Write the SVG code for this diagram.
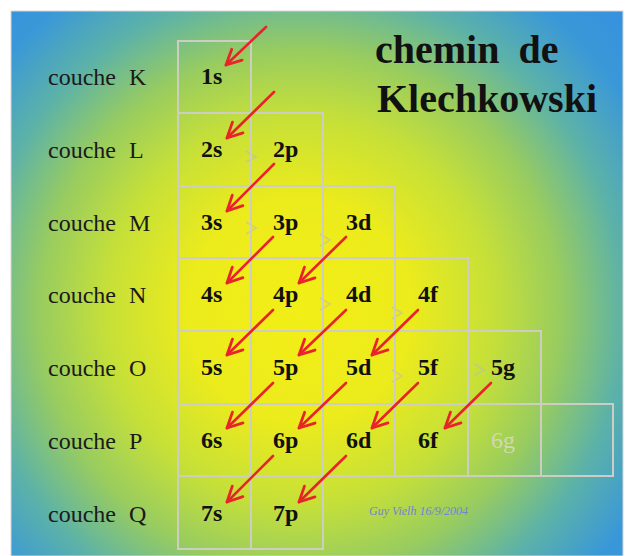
<svg xmlns="http://www.w3.org/2000/svg" width="628" height="556" viewBox="0 0 628 556">
<defs>
<radialGradient id="bg" gradientUnits="userSpaceOnUse" cx="300" cy="310" r="450">
<stop offset="0" stop-color="#f2ee16"/>
<stop offset="0.25" stop-color="#eceb1c"/>
<stop offset="0.43" stop-color="#c6e038"/>
<stop offset="0.58" stop-color="#98cc60"/>
<stop offset="0.72" stop-color="#5cb2a8"/>
<stop offset="0.86" stop-color="#3a98d8"/>
<stop offset="1" stop-color="#3490e0"/>
</radialGradient>
<marker id="ah" viewBox="-17 -10 19 20" refX="0" refY="0" markerWidth="19" markerHeight="20" markerUnits="userSpaceOnUse" orient="auto">
<path d="M-15,-7.5 L0,0 L-15,7.5" fill="none" stroke="#e8242a" stroke-width="2.8" stroke-linecap="round" stroke-linejoin="round"/>
</marker>
<style>
.cell{fill:none;stroke:#cdcdc4;stroke-width:2}
.lab{font-family:"Liberation Serif","Times New Roman",serif;font-weight:bold;font-size:24px;fill:#111}
.shell{font-family:"Liberation Serif","Times New Roman",serif;font-size:24px;fill:#1a1a1a;word-spacing:7px}
.title{font-family:"Liberation Serif","Times New Roman",serif;font-weight:bold;font-size:40px;fill:#111;word-spacing:9px}
.arr{stroke:#e8242a;stroke-width:2.6;fill:none;stroke-linecap:round;marker-end:url(#ah)}
.ghost{stroke:#b8b8c0;stroke-width:1.6;fill:none;opacity:0.5}
</style>
</defs>
<rect x="0" y="0" width="628" height="556" fill="#ffffff"/>
<rect x="11" y="11" width="612" height="545" fill="url(#bg)" stroke="#d8d4d4" stroke-width="1"/>

<g id="title">
<text class="title" x="375" y="63">chemin de</text>
<text class="title" x="377" y="112">Klechkowski</text>
</g>

<g id="shells">
<text class="shell" x="48" y="85">couche K</text>
<text class="shell" x="48" y="158">couche L</text>
<text class="shell" x="48" y="231">couche M</text>
<text class="shell" x="48" y="303">couche N</text>
<text class="shell" x="48" y="376">couche O</text>
<text class="shell" x="48" y="449">couche P</text>
<text class="shell" x="48" y="522">couche Q</text>
</g>

<g id="ghosts">
<path class="ghost" d="M246,151 L256,157 L246,162"/>
<path class="ghost" d="M246,222 L256,228 L246,234"/>
<path class="ghost" d="M320,234 L330,240 L320,246"/>
<path class="ghost" d="M320,298 L330,304 L320,310"/>
<path class="ghost" d="M392,307 L402,313 L392,319"/>
<path class="ghost" d="M392,370 L402,376 L392,382"/>
<path class="ghost" d="M474,364 L484,370 L474,376"/>
</g>

<g id="c1s"><rect class="cell" x="178" y="41" width="73" height="72"/><text class="lab" x="201" y="84">1s</text></g>
<g id="c2s"><rect class="cell" x="178" y="113" width="73" height="73"/><text class="lab" x="201" y="157">2s</text></g>
<g id="c2p"><rect class="cell" x="251" y="113" width="72" height="73"/><text class="lab" x="273" y="157">2p</text></g>
<g id="c3s"><rect class="cell" x="178" y="186" width="73" height="72"/><text class="lab" x="201" y="230">3s</text></g>
<g id="c3p"><rect class="cell" x="251" y="186" width="72" height="72"/><text class="lab" x="273" y="230">3p</text></g>
<g id="c3d"><rect class="cell" x="323" y="186" width="72" height="72"/><text class="lab" x="346" y="230">3d</text></g>
<g id="c4s"><rect class="cell" x="178" y="258" width="73" height="73"/><text class="lab" x="201" y="302">4s</text></g>
<g id="c4p"><rect class="cell" x="251" y="258" width="72" height="73"/><text class="lab" x="273" y="302">4p</text></g>
<g id="c4d"><rect class="cell" x="323" y="258" width="72" height="73"/><text class="lab" x="346" y="302">4d</text></g>
<g id="c4f"><rect class="cell" x="395" y="258" width="73" height="73"/><text class="lab" x="418" y="302">4f</text></g>
<g id="c5s"><rect class="cell" x="178" y="331" width="73" height="73"/><text class="lab" x="201" y="375">5s</text></g>
<g id="c5p"><rect class="cell" x="251" y="331" width="72" height="73"/><text class="lab" x="273" y="375">5p</text></g>
<g id="c5d"><rect class="cell" x="323" y="331" width="72" height="73"/><text class="lab" x="346" y="375">5d</text></g>
<g id="c5f"><rect class="cell" x="395" y="331" width="73" height="73"/><text class="lab" x="418" y="375">5f</text></g>
<g id="c5g"><rect class="cell" x="468" y="331" width="73" height="73"/><text class="lab" x="491" y="375">5g</text></g>
<g id="c6s"><rect class="cell" x="178" y="404" width="73" height="72"/><text class="lab" x="201" y="448">6s</text></g>
<g id="c6p"><rect class="cell" x="251" y="404" width="72" height="72"/><text class="lab" x="273" y="448">6p</text></g>
<g id="c6d"><rect class="cell" x="323" y="404" width="72" height="72"/><text class="lab" x="346" y="448">6d</text></g>
<g id="c6f"><rect class="cell" x="395" y="404" width="73" height="72"/><text class="lab" x="418" y="448">6f</text></g>
<g id="c6g"><rect class="cell" x="468" y="404" width="73" height="72"/><text class="lab" x="491" y="448" style="fill:#d2d8b4;font-weight:normal">6g</text></g>
<g id="c6x"><rect class="cell" x="541" y="404" width="72" height="72"/></g>
<g id="c7s"><rect class="cell" x="178" y="476" width="73" height="73"/><text class="lab" x="201" y="521">7s</text></g>
<g id="c7p"><rect class="cell" x="251" y="476" width="72" height="73"/><text class="lab" x="273" y="521">7p</text></g>

<g id="connectors">
<line class="arr" x1="266" y1="27" x2="226" y2="65"/>
<line class="arr" x1="274" y1="92" x2="227" y2="138"/>
<line class="arr" x1="274" y1="164" x2="227" y2="211"/>
<line class="arr" x1="273" y1="237" x2="227" y2="283"/>
<line class="arr" x1="346" y1="237" x2="299" y2="283"/>
<line class="arr" x1="273" y1="310" x2="227" y2="355"/>
<line class="arr" x1="346" y1="310" x2="299" y2="355"/>
<line class="arr" x1="418" y1="310" x2="372" y2="355"/>
<line class="arr" x1="273" y1="383" x2="227" y2="428"/>
<line class="arr" x1="346" y1="383" x2="299" y2="428"/>
<line class="arr" x1="418" y1="383" x2="372" y2="428"/>
<line class="arr" x1="491" y1="383" x2="445" y2="428"/>
<line class="arr" x1="273" y1="456" x2="227" y2="502"/>
<line class="arr" x1="346" y1="456" x2="299" y2="502"/>
</g>

<text x="369" y="515" style="font-family:'Liberation Serif','Times New Roman',serif;font-style:italic;font-size:12px;fill:#7482d4">Guy Vielh 16/9/2004</text>
</svg>
